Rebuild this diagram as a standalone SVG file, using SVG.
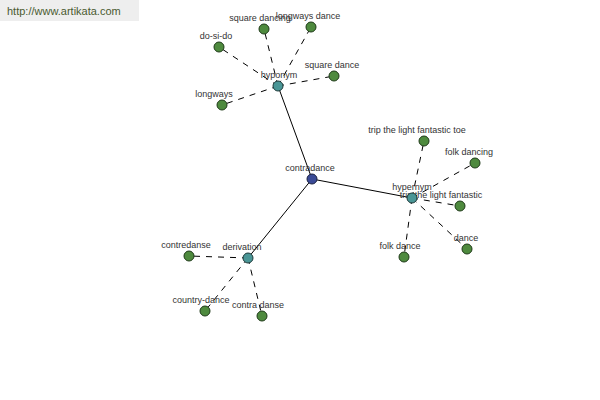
<svg xmlns="http://www.w3.org/2000/svg" width="600" height="400" viewBox="0 0 600 400">
<style>
.lbl{font-family:"Liberation Sans",Arial,sans-serif;font-size:9px;fill:#333;text-anchor:middle}
.leaf{fill:#4e8a3e;stroke:#1e3a18;stroke-width:1}
.hub{fill:#4a9696;stroke:#1e3a3a;stroke-width:1}
.root{fill:#3a4a96;stroke:#1a2040;stroke-width:1}
.solid{stroke:#000;stroke-width:1;fill:none}
.dash{stroke:#000;stroke-width:1;fill:none;stroke-dasharray:6,6}
</style>
<rect x="0" y="0" width="139" height="21" fill="#eeeeee"/>
<text x="7" y="15" style="font-family:'Liberation Sans',Arial,sans-serif;font-size:11px;fill:#4a5a30">http://www.artikata.com</text>
<g id="connectors">
<line class="solid" x1="312" y1="179" x2="278" y2="86"/>
<line class="solid" x1="312" y1="179" x2="412" y2="198"/>
<line class="solid" x1="312" y1="179" x2="248" y2="258"/>
<line class="dash" x1="278" y1="86" x2="264" y2="29"/>
<line class="dash" x1="278" y1="86" x2="311" y2="27"/>
<line class="dash" x1="278" y1="86" x2="219" y2="47"/>
<line class="dash" x1="278" y1="86" x2="334" y2="76"/>
<line class="dash" x1="278" y1="86" x2="222" y2="105"/>
<line class="dash" x1="412" y1="198" x2="424" y2="141"/>
<line class="dash" x1="412" y1="198" x2="475" y2="163"/>
<line class="dash" x1="412" y1="198" x2="460" y2="206"/>
<line class="dash" x1="412" y1="198" x2="467" y2="249"/>
<line class="dash" x1="412" y1="198" x2="404" y2="257"/>
<line class="dash" x1="248" y1="258" x2="189" y2="256"/>
<line class="dash" x1="248" y1="258" x2="205" y2="311"/>
<line class="dash" x1="248" y1="258" x2="262" y2="316"/>
</g>
<g id="n-square-dancing"><circle class="leaf" cx="264" cy="29" r="5"/><text class="lbl" x="260" y="21">square dancing</text></g>
<g id="n-longways-dance"><circle class="leaf" cx="311" cy="27" r="5"/><text class="lbl" x="308" y="19">longways dance</text></g>
<g id="n-do-si-do"><circle class="leaf" cx="219" cy="47" r="5"/><text class="lbl" x="216" y="39">do-si-do</text></g>
<g id="n-square-dance"><circle class="leaf" cx="334" cy="76" r="5"/><text class="lbl" x="332" y="68">square dance</text></g>
<g id="n-longways"><circle class="leaf" cx="222" cy="105" r="5"/><text class="lbl" x="214" y="97">longways</text></g>
<g id="n-hyponym"><circle class="hub" cx="278" cy="86" r="5"/><text class="lbl" x="279" y="78">hyponym</text></g>
<g id="n-trip-toe"><circle class="leaf" cx="424" cy="141" r="5"/><text class="lbl" x="417" y="133">trip the light fantastic toe</text></g>
<g id="n-folk-dancing"><circle class="leaf" cx="475" cy="163" r="5"/><text class="lbl" x="469" y="155">folk dancing</text></g>
<g id="n-trip"><circle class="leaf" cx="460" cy="206" r="5"/><text class="lbl" x="441" y="198">trip the light fantastic</text></g>
<g id="n-dance"><circle class="leaf" cx="467" cy="249" r="5"/><text class="lbl" x="466" y="241">dance</text></g>
<g id="n-folk-dance"><circle class="leaf" cx="404" cy="257" r="5"/><text class="lbl" x="400" y="249">folk dance</text></g>
<g id="n-hypernym"><circle class="hub" cx="412" cy="198" r="5"/><text class="lbl" x="412" y="190">hypernym</text></g>
<g id="n-contredanse"><circle class="leaf" cx="189" cy="256" r="5"/><text class="lbl" x="186" y="248">contredanse</text></g>
<g id="n-country-dance"><circle class="leaf" cx="205" cy="311" r="5"/><text class="lbl" x="201" y="303">country-dance</text></g>
<g id="n-contra-danse"><circle class="leaf" cx="262" cy="316" r="5"/><text class="lbl" x="258" y="308">contra danse</text></g>
<g id="n-derivation"><circle class="hub" cx="248" cy="258" r="5"/><text class="lbl" x="242" y="250">derivation</text></g>
<g id="n-contradance"><circle class="root" cx="312" cy="179" r="5"/><text class="lbl" x="310" y="171">contradance</text></g>
</svg>
